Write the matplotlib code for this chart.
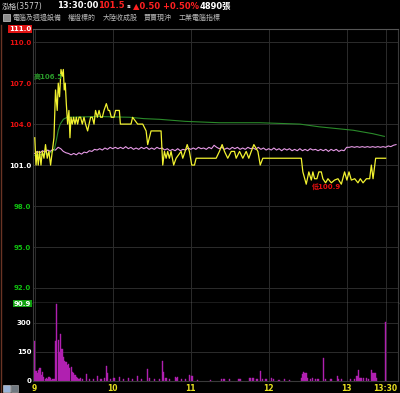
import numpy as np
import matplotlib
matplotlib.use('Agg')
import matplotlib.pyplot as plt
from matplotlib.patches import Rectangle
from matplotlib.lines import Line2D

W, H = 400, 393
FAM = ['DejaVu Sans', 'Noto Sans CJK TC']

# time axis: minutes after 9:00
price_t = [0, 1, 1.9, 2.7, 3.7, 4.8, 5.8, 7.1, 8.3, 9.6,
           10.9, 12.2, 13.5, 14.8, 16.0, 17.3, 18.1, 19.1, 20.2, 21.2,
           22.0, 22.7, 23.5, 24.3, 25.3, 26.3, 27.1, 27.9, 28.9, 29.9,
           31.0, 32.0, 33.0, 34.1, 35.3, 36.6, 37.9, 39.1, 40.7, 41.8,
           43.0, 44.3, 45.6, 46.8, 48.2, 49.5, 50.7, 52.0, 53.3, 55.1,
           56.6, 57.6, 58.9, 61.0, 62.2, 65.1, 65.9, 74.1, 75.3, 79.2,
           83.1, 85.7, 86.9, 89.5, 91.5, 97.2, 98.5, 99.8, 101.1, 102.3,
           103.6, 104.9, 106.9, 108.8, 112.6, 113.9, 115.7, 117.3, 119.0, 120.8,
           122.9, 124.2, 139.6, 142.1, 144.2, 146.0, 148.5, 151.2, 153.7, 155.0,
           157.6, 160.1, 162.7, 164.7, 166.6, 168.6, 171.7, 173.5, 175.5, 205.1,
           206.3, 208.9, 210.9, 212.8, 214.0, 215.3, 217.1, 218.6, 220.5, 221.7,
           223.8, 225.6, 228.2, 230.7, 233.3, 235.9, 238.4, 240.2, 241.8, 243.6,
           246.2, 248.7, 250.5, 252.6, 255.2, 257.7, 259.0, 260.3, 262.3, 270.0]
price_v = [103.0, 101.0, 102.0, 101.0, 102.0, 101.0, 102.0, 101.5, 102.5, 101.5,
           102.0, 101.0, 102.0, 103.0, 106.5, 105.0, 107.0, 106.0, 108.0, 107.5,
           108.0, 106.5, 107.0, 105.5, 104.0, 105.0, 103.0, 104.5, 104.0, 104.5,
           104.0, 104.5, 104.0, 104.5, 104.5, 104.0, 104.5, 104.0, 103.5, 104.0,
           104.5, 104.5, 104.0, 105.0, 104.5, 105.0, 104.5, 104.5, 105.0, 105.5,
           105.0, 105.0, 104.5, 104.5, 105.0, 105.0, 104.0, 104.0, 104.5, 104.0,
           104.0, 103.5, 102.5, 103.5, 103.5, 103.5, 101.0, 102.0, 101.5, 102.0,
           101.5, 102.0, 101.0, 101.5, 102.0, 101.5, 102.0, 102.5, 102.0, 101.0,
           101.0, 101.5, 101.5, 102.0, 102.5, 102.0, 101.5, 102.0, 102.0, 101.5,
           102.0, 101.5, 102.0, 101.5, 102.0, 102.5, 102.0, 101.0, 101.5, 101.5,
           100.5, 99.6, 100.5, 99.9, 100.5, 100.0, 100.0, 100.5, 100.5, 100.0,
           99.7, 100.0, 99.7, 99.9, 100.0, 99.6, 100.5, 99.9, 100.5, 99.9,
           100.0, 99.7, 100.0, 99.7, 100.0, 100.0, 101.0, 100.0, 101.5, 101.5]

avg_t = [0, 11, 15, 16.6, 18.1, 19.6, 22, 25, 50, 73,
         84, 96, 116, 142, 173, 204, 219, 245, 260, 269]
avg_v = [101.7, 101.85, 102.1, 102.8, 103.55, 104.0, 104.35, 104.5, 104.55, 104.5,
         104.4, 104.35, 104.2, 104.1, 104.1, 104.0, 103.8, 103.55, 103.3, 103.1]

# index line, one value every 2 minutes
idx_v = [101.85, 102.0, 101.9, 102.05, 101.95, 102.1, 102.0, 102.15, 102.1, 102.3,
         102.2, 102.0, 101.9, 101.85, 101.75, 101.85, 101.75, 101.9, 101.8, 101.95,
         101.9, 102.05, 102.0, 102.15, 102.1, 102.2, 102.1, 102.25, 102.15, 102.3,
         102.2, 102.3, 102.2, 102.3, 102.2, 102.35, 102.2, 102.3, 102.15, 102.25,
         102.15, 102.3, 102.2, 102.3, 102.15, 102.25, 102.15, 102.3, 102.2, 102.25,
         102.1, 102.2, 102.05, 102.15, 102.05, 102.2, 102.05, 102.15, 102.1, 102.25,
         102.15, 102.25, 102.15, 102.3, 102.2, 102.25, 102.15, 102.3, 102.2, 102.45,
         102.3, 102.2, 102.3, 102.15, 102.25, 102.15, 102.3, 102.2, 102.3, 102.15,
         102.25, 102.15, 102.3, 102.2, 102.25, 102.15, 102.3, 102.15, 102.25, 102.1,
         102.2, 102.1, 102.25, 102.1, 102.2, 102.05, 102.2, 102.1, 102.2, 102.05,
         102.15, 102.05, 102.2, 102.05, 102.15, 102.05, 102.2, 102.1, 102.15, 102.05,
         102.15, 102.05, 102.15, 102.0, 102.15, 102.05, 102.15, 102.0, 102.1, 102.05,
         102.3, 102.3, 102.35, 102.3, 102.35, 102.3, 102.35, 102.3, 102.35, 102.3,
         102.35, 102.3, 102.35, 102.3, 102.35, 102.3, 102.4, 102.35, 102.45, 102.5]
idx_t = np.arange(len(idx_v)) * 2

vol_t = [0, 1, 2, 3, 4, 5, 6, 7, 8, 9, 10, 11, 12, 13, 14, 15, 16, 17, 18, 19,
         20, 21, 22, 23, 24, 25, 26, 27, 28, 29, 30, 31, 32, 33, 34, 35, 37, 40, 42, 45,
         48, 51, 54, 55, 56, 58, 61, 65, 68, 72, 75, 79, 82, 87, 88, 92, 96, 98, 99, 101,
         104, 108, 109, 110, 113, 116, 119, 121, 125, 135, 144, 145, 146, 150, 157, 158, 165, 166, 168, 171,
         174, 175, 178, 182, 184, 188, 192, 196, 205, 206, 207, 208, 209, 210, 212, 214, 216, 218, 222, 224,
         228, 233, 234, 236, 243, 246, 248, 249, 250, 251, 253, 255, 257, 259, 260, 261, 262, 263, 270]
vol_v = [205, 50, 40, 55, 65, 30, 45, 20, 10, 15, 8, 20, 12, 5, 8, 10, 205, 400, 210, 150,
         240, 165, 120, 100, 95, 80, 85, 65, 70, 45, 40, 30, 20, 15, 10, 12, 8, 35, 10, 8,
         25, 10, 15, 75, 40, 10, 15, 18, 10, 12, 8, 22, 10, 60, 15, 10, 8, 100, 45, 12,
         8, 18, 15, 20, 8, 10, 28, 25, 5, 5, 10, 10, 8, 6, 10, 6, 12, 14, 12, 10,
         50, 10, 8, 14, 8, 5, 6, 4, 12, 35, 45, 40, 40, 12, 8, 14, 8, 10, 115, 8,
         10, 22, 8, 10, 6, 10, 22, 55, 14, 12, 15, 12, 10, 55, 38, 38, 40, 12, 305]

price_ticks = [111.0, 110.0, 107.0, 104.0, 101.0, 98.0, 95.0, 92.0, 90.9]
price_tick_colors = ['white', '#e81010', '#e81010', '#e81010', 'white',
                     '#10c010', '#10c010', '#10c010', 'white']
vol_ticks = [0, 150, 300]
time_ticks = [0, 60, 120, 180, 240, 270]
time_labels = ['9', '10', '11', '12', '13', '13:30']
tags = ['電腦及週邊設備', '權證標的', '大陸收成股', '買賣現沖', '工業電腦指標']
tag_x = [12.7, 68, 103, 144, 179]

fig = plt.figure(figsize=(W / 100, H / 100), dpi=100, facecolor='black')

x0, x1 = 33.3, 398
ax = fig.add_axes([x0 / W, 1 - 303 / H, (x1 - x0) / W, (303 - 28.5) / H])
axv = fig.add_axes([x0 / W, 1 - 380.5 / H, (x1 - x0) / W, (380.5 - 303) / H])

for a in (ax, axv):
    a.set_facecolor('black')
    a.set_xlim(-1.1, 279.5)
    a.set_xticks(time_ticks)
    a.grid(color='#2c2c2c', lw=0.7)
    a.set_axisbelow(True)
    for s in a.spines.values():
        s.set_color('#3a3a3a')
        s.set_linewidth(0.8)

# price panel
ax.plot(idx_t, idx_v, color='#e69ae6', lw=0.8)
ax.plot(avg_t, avg_v, color='#2a8a2a', lw=0.8)
ax.plot(price_t, price_v, color='#f2f230', lw=0.9)
ax.set_ylim(90.9, 111.0)
ax.set_yticks(price_ticks)
ax.set_yticklabels(['%.1f' % v for v in price_ticks])
ax.tick_params(axis='y', length=0, pad=1.5, labelsize=5)
ax.tick_params(axis='x', length=0, labelbottom=False)
for lab, c in zip(ax.get_yticklabels(), price_tick_colors):
    lab.set_color(c)
    lab.set_fontweight('bold')
ax.get_yticklabels()[0].set_bbox(dict(facecolor='#e01414', edgecolor='none', pad=0.7))
ax.get_yticklabels()[-1].set_bbox(dict(facecolor='#10a010', edgecolor='none', pad=0.7))
ax.spines['bottom'].set_color('#8a8a8a')
ax.spines['bottom'].set_linewidth(1.0)
ax.spines['top'].set_color('#555555')

i_hi = int(np.argmax(price_v))
i_lo = int(np.argmin(price_v))
ax.annotate('高%.1f' % 106.5, xy=(price_t[i_hi], price_v[i_hi]), xytext=(1.5, -5),
            textcoords='offset points', ha='right', va='center', color='#2a9a2a',
            fontsize=5, family=FAM, fontweight='bold')
ax.annotate('低%.1f' % 100.9, xy=(price_t[i_lo], price_v[i_lo]), xytext=(4, -1.5),
            textcoords='offset points', ha='left', va='center', color='#e81010',
            fontsize=5, family=FAM, fontweight='bold')

# volume panel
axv.bar(vol_t, vol_v, width=0.9, color='#b020b0', edgecolor='#b020b0', lw=0.3)
axv.set_ylim(0, 404)
axv.set_yticks(vol_ticks)
axv.set_xticklabels(time_labels)
axv.tick_params(axis='y', length=0, pad=1.5, labelsize=5, labelcolor='white')
axv.tick_params(axis='x', length=0, pad=2.5, labelsize=5.5, labelcolor='#e8e020')
for lab in axv.get_yticklabels() + axv.get_xticklabels():
    lab.set_fontweight('bold')
axv.spines['top'].set_visible(False)

# header
def fy(y):
    return 1 - y / H

fig.text(2 / W, fy(6), '泓格(3577)', color='#cccccc', fontsize=5.5, family=FAM, va='center')
fig.text(57 / W, fy(6), '13:30:00', color='white', fontsize=6, fontweight='bold', va='center')
fig.text(98 / W, fy(6), '101.5', color='#ff2020', fontsize=6, fontweight='bold', va='center')
fig.text(126.5 / W, fy(6.5), 's', color='white', fontsize=4.5, fontweight='bold', va='center')
fig.text(133 / W, fy(6), '▲0.50 +0.50%', color='#ff2020', fontsize=6, fontweight='bold', va='center')
fig.text(200 / W, fy(6), '4890張', color='white', fontsize=6, fontweight='bold', family=FAM, va='center')
for t, x in zip(tags, tag_x):
    fig.text(x / W, fy(17.5), t, color='#b8b8b8', fontsize=5, family=FAM, va='center')
fig.patches.append(Rectangle((3 / W, fy(21)), 6.5 / W, 7 / H, transform=fig.transFigure,
                             facecolor='#8a8a8a', edgecolor='#cccccc', lw=0.5))

# frame bits
fig.lines.append(Line2D([0.8 / W, 0.8 / W], [0, fy(25)], transform=fig.transFigure,
                        color='#6a3424', lw=1))
fig.patches.append(Rectangle((3 / W, fy(392)), 7 / W, 7 / H, transform=fig.transFigure,
                             facecolor='#9ab4d8', edgecolor='#dddddd', lw=0.4))
fig.patches.append(Rectangle((11 / W, fy(392)), 7 / W, 7 / H, transform=fig.transFigure,
                             facecolor='#707880', edgecolor='#bbbbbb', lw=0.4))

fig.savefig('out.png', dpi=100, facecolor='black')
